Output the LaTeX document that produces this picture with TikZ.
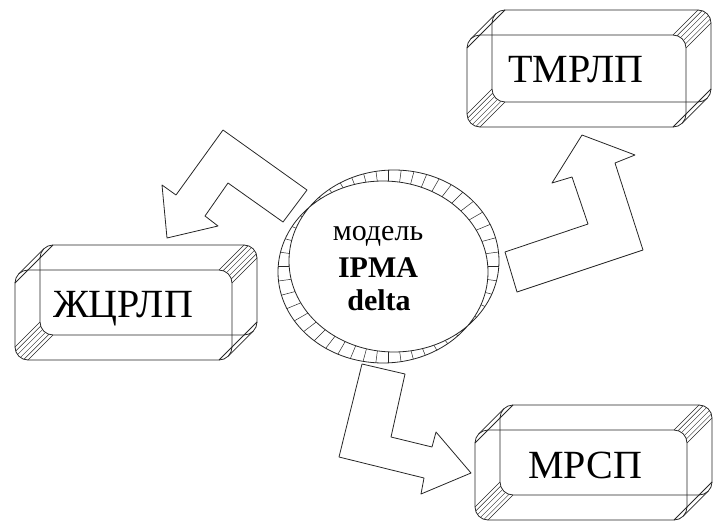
\documentclass[tikz,border=0pt]{standalone}
\usepackage{fontspec}
\setmainfont{Liberation Serif}

\begin{document}
\begin{tikzpicture}[x=1pt,y=1pt,
    outline/.style={line width=0.8pt, draw=black!85, line join=round},
    hatch/.style={line width=0.5pt, draw=black!85},
    boxtext/.style={font=\fontsize{40}{40}\selectfont, anchor=base, inner sep=0pt},
    ringtext/.style={font=\fontsize{30}{30}\selectfont, anchor=base, inner sep=0pt}]
      \useasboundingbox (0,0) rectangle (714,523);
      %%%%%%%%%%%%%%%%%%%%%%%%%%%%%%%%%%%%%%%%%%%%%%%
      \foreach \bx/\by/\bw/\bh in {15/163/217/90, 467/396/219/92, 475/3/212/90}{
        \draw[outline, rounded corners=13pt] (\bx,\by) rectangle ++(\bw,\bh);
        \draw[outline, rounded corners=13pt] (\bx+25,\by+25) rectangle ++(\bw,\bh);
        \foreach \a in {180,198,...,270}
          \draw[hatch, shift={(\bx+13,\by+13)}] (\a:13) -- ++(25,25);
        \foreach \a in {0,18,...,90}
          \draw[hatch, shift={(\bx+\bw-13,\by+\bh-13)}] (\a:13) -- ++(25,25);
        \draw[outline, shift={(\bx+13,\by+\bh-13)}] (135:13) -- ++(25,25)
              (180:13) -- (25,38);
        \draw[outline, shift={(\bx+\bw-13,\by+13)}] (315:13) -- ++(25,25)
              (270:13) -- (38,25);
      }
      \node[boxtext] at (123,206) (zhcrlp) {ЖЦРЛП};
      \node[boxtext] at (576,440) (tmrlp) {ТМРЛП};
      \node[boxtext] at (585,45)  (mrsp)  {МРСП};
      %%%%%%%%%%%%%%%%%%%%%%%%%%%%%%%%%%%%%%%%%%%%%%%
      \begin{scope}
        \clip (383,251) ellipse (105 and 91);
        \foreach \a in {0,7.5,...,352.5}
          \draw[hatch] (388.5,256.5) -- ++(\a:130);
      \end{scope}
      \begin{scope}
        \clip (394,262) ellipse (105 and 91);
        \foreach \a in {0,7.5,...,352.5}
          \draw[hatch] (388.5,256.5) -- ++(\a:130);
      \end{scope}
      \begin{scope}
        \clip (383,251) ellipse (105 and 91);
        \fill[white] (394,262) ellipse (105 and 91);
      \end{scope}
      \draw[outline] (383,251) ellipse (105 and 91)
                     (394,262) ellipse (105 and 91);
      \node[ringtext] at (378,283) (model) {модель};
      \node[ringtext] at (378,246) (ipma)  {\textbf{IPMA}};
      \node[ringtext] at (379,213) (delta) {\textbf{delta}};
      %%%%%%%%%%%%%%%%%%%%%%%%%%%%%%%%%%%%%%%%%%%%%%%
      \draw[outline] (223,393) -- (307,333) -- (283,301) -- (228,340) -- (205,307)
            -- (218,297) -- (167,285) -- (162,338) -- (176,328) -- cycle;
      \draw[outline] (582,388) -- (635,368) -- (615,360) -- (643,273) -- (517,231)
            -- (505,271) -- (588,299) -- (572,346) -- (552,340) -- cycle;
      \draw[outline] (362,159) -- (405,149) -- (391,86) -- (432,76) -- (436,91)
            -- (471,50) -- (421,29) -- (424,45) -- (339,66) -- cycle;
      %%%%%%%%%%%%%%%%%%%%%%%%%%%%%%%%%%%%%%%%%%%%%%%
\end{tikzpicture}
\end{document}
